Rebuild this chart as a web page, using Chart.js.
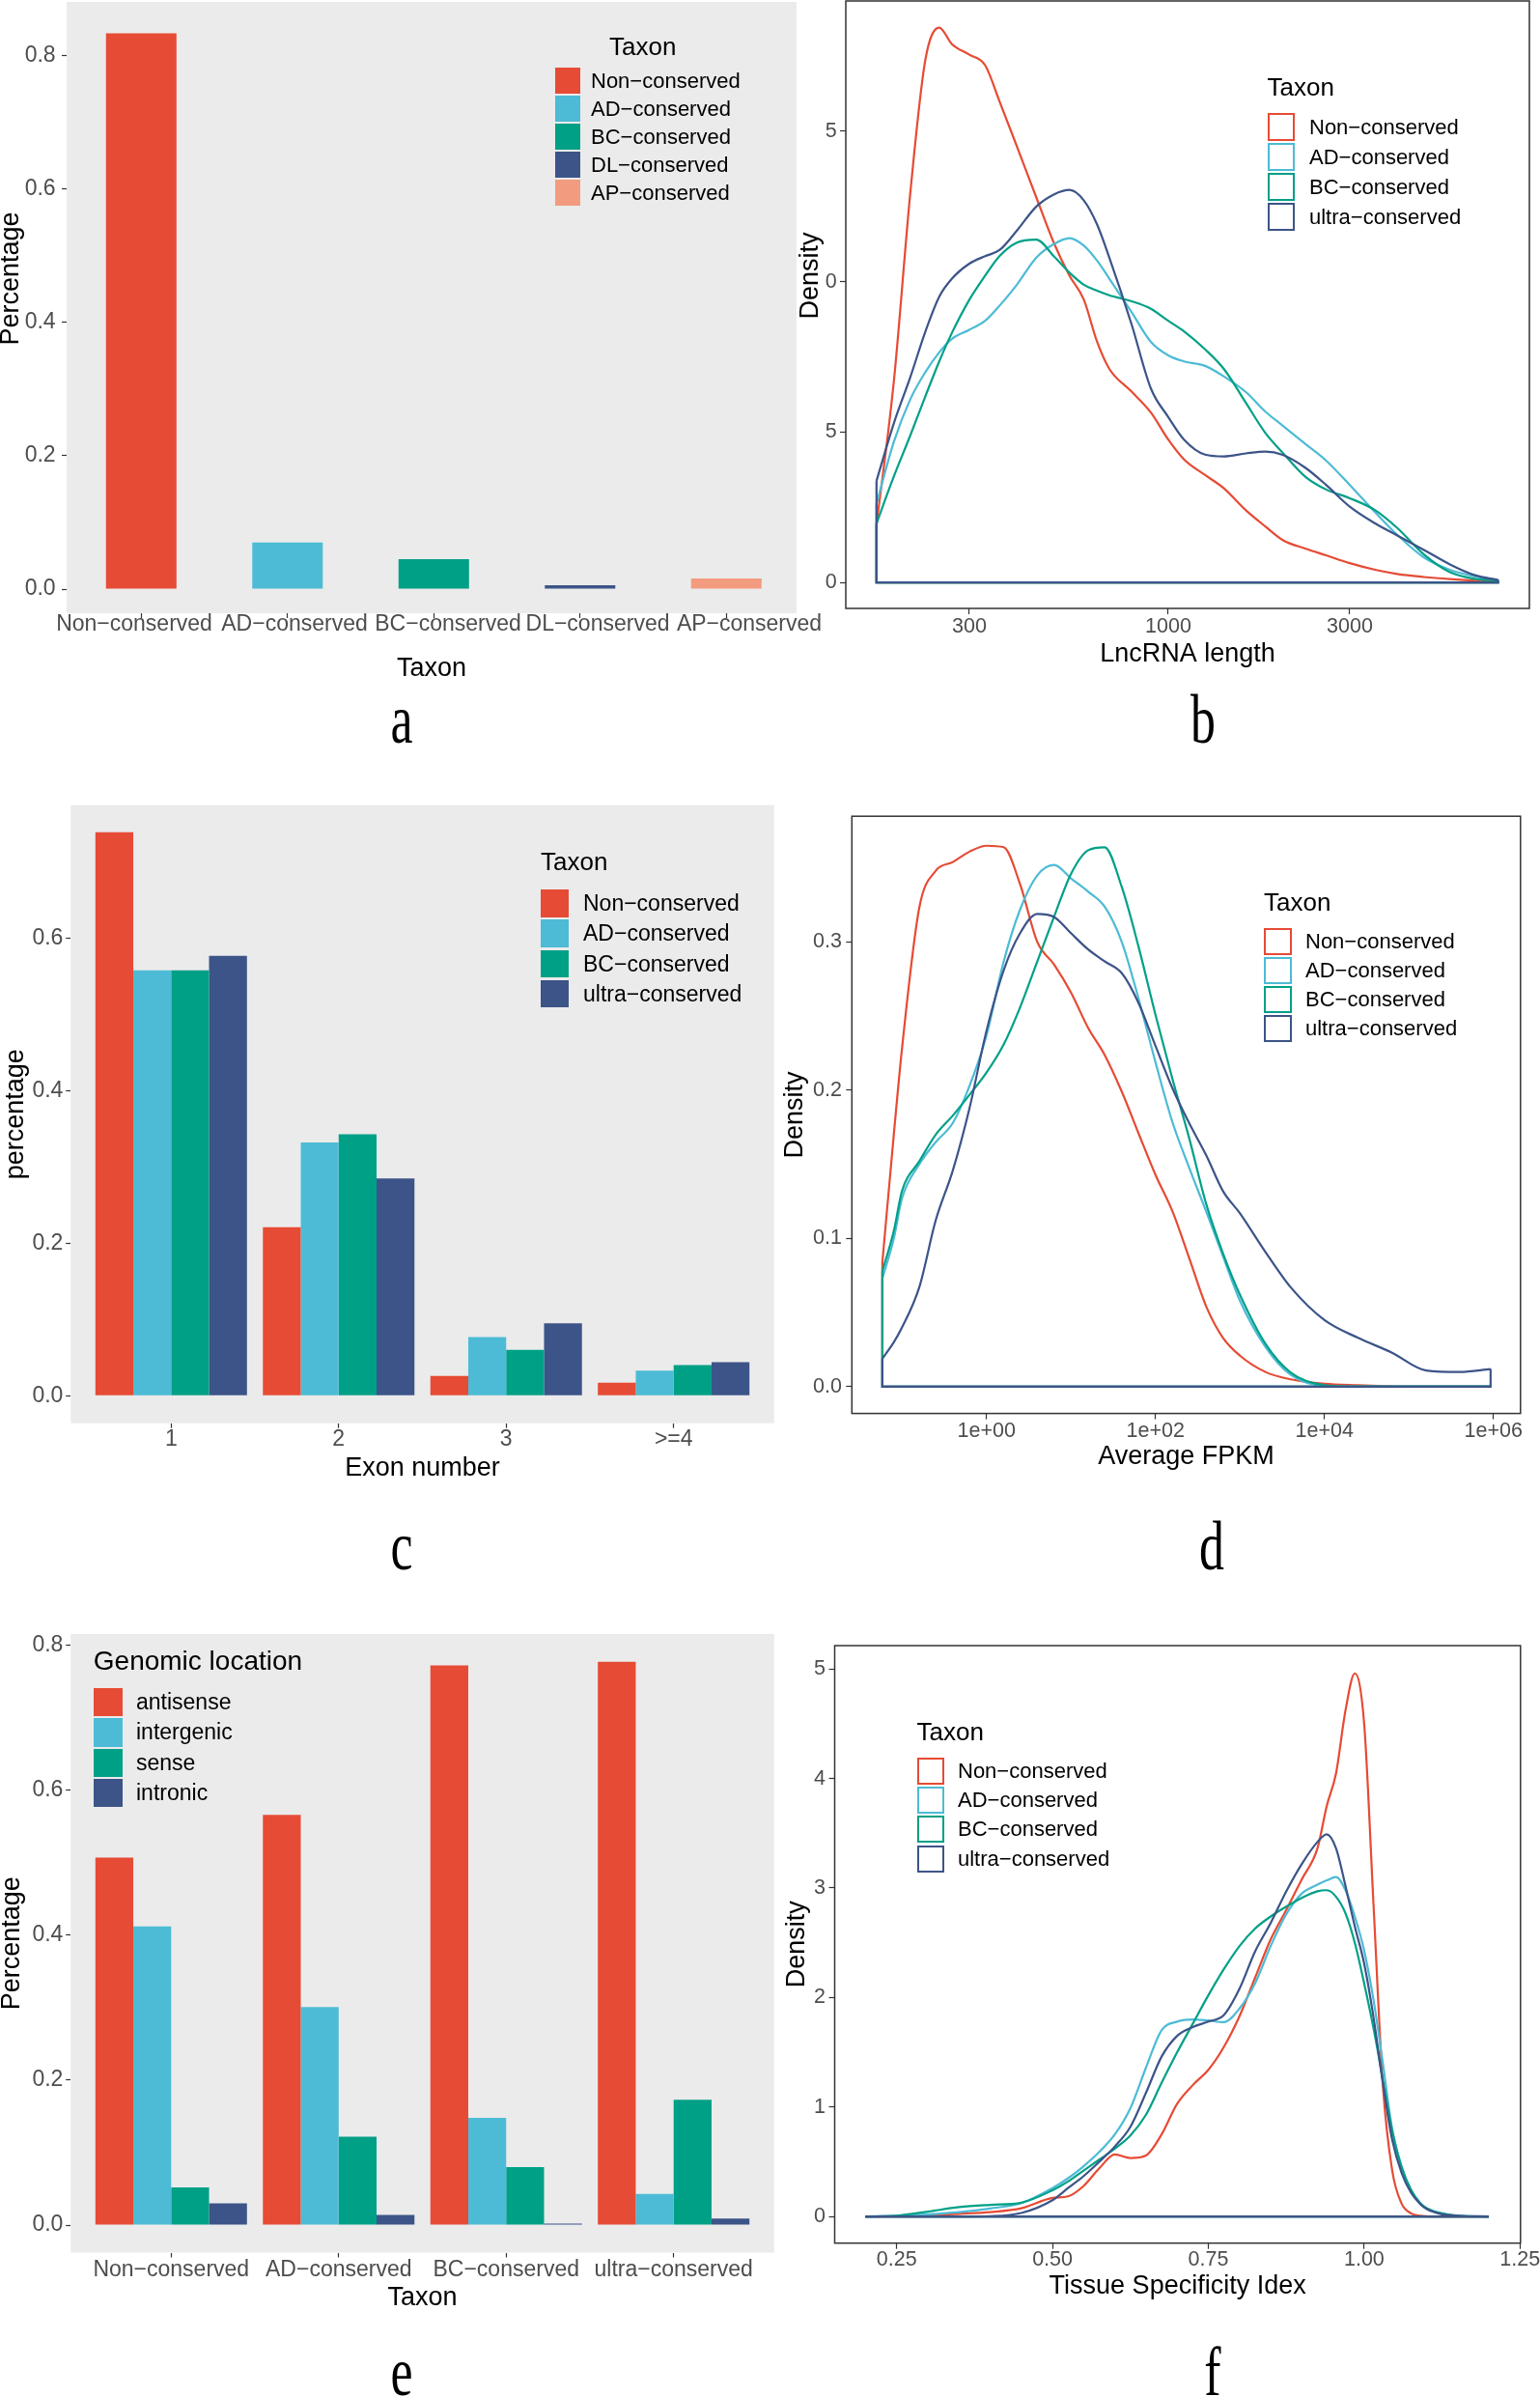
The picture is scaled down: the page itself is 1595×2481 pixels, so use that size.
<!DOCTYPE html>
<html lang="en">
<head>
<meta charset="utf-8">
<title>LncRNA conservation figure</title>
<script src="https://cdn.jsdelivr.net/npm/chart.js@4.4.1/dist/chart.umd.min.js"></script>
<style>
  html, body { margin:0; padding:0; background:#ffffff; }
  #page { position:relative; width:1595px; height:2481px; overflow:hidden; background:#ffffff;
          font-family:"Liberation Sans", Arial, Helvetica, sans-serif; color:#000; }
  #page canvas { position:absolute; }
  .lg-title, .lg-label { position:absolute; white-space:nowrap; color:#000; }
  .lg-key { position:absolute; box-sizing:border-box; }
  .letter { position:absolute; font-family:"Liberation Serif","Times New Roman",serif; color:#000;
            white-space:nowrap; text-align:center; transform-origin:50% 50%; }
</style>
</head>
<body>
<div id="page"></div>
<script>
// ---------------- DATA ----------------
// Panel a: share of lncRNAs per taxon
const taxaA = ['Non−conserved', 'AD−conserved', 'BC−conserved', 'DL−conserved', 'AP−conserved'];
const shareA = [0.833, 0.070, 0.045, 0.006, 0.016];
const yTicksA = [0, 0.2, 0.4, 0.6, 0.8];
const yLabelsA = ['0.0', '0.2', '0.4', '0.6', '0.8'];

// Four-taxon groups (panels b, c, d, f)
const taxa4 = ['Non−conserved', 'AD−conserved', 'BC−conserved', 'ultra−conserved'];

// Panel b: density of lncRNA length (log10 scale)
const lengthGrid = [171,190,210,230,250,270,300,330,360,400,450,500,550,600,650,700,800,900,1000,1100,1250,1400,1600,1800,2000,2300,2600,3000,3500,4000,4700,5500,6400,7360];
const lenNon   = [0.19,0.67,1.30,1.74,1.845,1.79,1.755,1.72,1.60,1.45,1.28,1.13,1.02,0.94,0.80,0.71,0.635,0.565,0.475,0.409,0.357,0.313,0.240,0.186,0.141,0.112,0.090,0.064,0.042,0.028,0.018,0.011,0.006,0.004];
const lenAD    = [0.262,0.468,0.61,0.70,0.765,0.81,0.84,0.87,0.92,0.99,1.08,1.125,1.145,1.12,1.07,1.01,0.90,0.80,0.755,0.735,0.72,0.685,0.633,0.568,0.521,0.459,0.405,0.324,0.233,0.158,0.083,0.042,0.020,0.008];
const lenBC    = [0.196,0.353,0.49,0.62,0.735,0.83,0.94,1.02,1.085,1.13,1.14,1.085,1.03,0.99,0.97,0.955,0.935,0.91,0.87,0.835,0.775,0.71,0.597,0.497,0.431,0.350,0.309,0.280,0.240,0.181,0.093,0.034,0.012,0.006];
const lenUltra = [0.338,0.53,0.684,0.835,0.95,1.01,1.06,1.085,1.105,1.17,1.25,1.29,1.305,1.27,1.19,1.08,0.86,0.645,0.55,0.475,0.425,0.419,0.429,0.435,0.424,0.380,0.324,0.252,0.196,0.156,0.108,0.060,0.024,0.008];
const xTicksB = [300, 1000, 3000];
const xLabelsB = ['300', '1000', '3000'];
const yTicksB = [0, 0.5, 1.0, 1.5];
const yLabelsB = ['0', '5', '0', '5'];   // as printed (leading digits cut off in the figure)

// Panel c: exon number
const exonClasses = ['1', '2', '3', '>=4'];
const exonNon   = [0.739, 0.221, 0.026, 0.017];
const exonAD    = [0.558, 0.332, 0.077, 0.033];
const exonBC    = [0.558, 0.343, 0.060, 0.040];
const exonUltra = [0.577, 0.285, 0.095, 0.044];
const yTicksC = [0, 0.2, 0.4, 0.6];
const yLabelsC = ['0.0', '0.2', '0.4', '0.6'];

// Panel d: density of average FPKM (log10 scale)
const fpkmGrid  = [0.0586,0.08,0.1,0.16,0.25,0.4,0.63,1,1.6,2.5,4,6.3,10,16,25,40,63,100,160,250,400,630,1000,2000,4000,10000,25000,63000,160000,400000,925000];
const fpkmNon   = [0.084,0.17,0.228,0.323,0.348,0.354,0.361,0.365,0.364,0.339,0.30,0.285,0.266,0.242,0.224,0.199,0.171,0.143,0.118,0.087,0.054,0.033,0.021,0.010,0.005,0.002,0.001,0.0003,0,0,0];
const fpkmAD    = [0.073,0.10,0.127,0.150,0.165,0.178,0.203,0.237,0.287,0.322,0.345,0.352,0.343,0.334,0.324,0.30,0.262,0.219,0.178,0.148,0.118,0.088,0.058,0.027,0.008,0.0005,0,0,0,0,0];
const fpkmBC    = [0.078,0.105,0.132,0.152,0.17,0.183,0.197,0.212,0.231,0.256,0.287,0.317,0.346,0.362,0.364,0.337,0.297,0.251,0.207,0.168,0.123,0.090,0.062,0.029,0.0095,0.001,0,0,0,0,0];
const fpkmUltra = [0.019,0.030,0.040,0.067,0.112,0.146,0.188,0.240,0.281,0.306,0.319,0.317,0.306,0.295,0.287,0.279,0.259,0.230,0.201,0.178,0.156,0.132,0.117,0.091,0.067,0.045,0.033,0.023,0.011,0.010,0.012];
const xTicksD = [1, 100, 10000, 1000000];
const xLabelsD = ['1e+00', '1e+02', '1e+04', '1e+06'];
const yTicksD = [0, 0.1, 0.2, 0.3];
const yLabelsD = ['0.0', '0.1', '0.2', '0.3'];

// Panel e: genomic location per taxon
const locations = ['antisense', 'intergenic', 'sense', 'intronic'];
const locAntisense  = [0.507, 0.566, 0.772, 0.777];
const locIntergenic = [0.412, 0.301, 0.148, 0.043];
const locSense      = [0.052, 0.122, 0.080, 0.173];
const locIntronic   = [0.030, 0.014, 0.002, 0.009];
const yTicksE = [0, 0.2, 0.4, 0.6, 0.8];
const yLabelsE = ['0.0', '0.2', '0.4', '0.6', '0.8'];

// Panel f: density of tissue specificity index
const tsiGrid  = [0.20,0.25,0.30,0.35,0.40,0.45,0.50,0.525,0.55,0.575,0.60,0.625,0.65,0.675,0.70,0.725,0.75,0.775,0.80,0.825,0.85,0.875,0.90,0.925,0.94,0.955,0.97,0.985,1.00,1.015,1.03,1.045,1.06,1.075,1.09,1.10,1.125,1.15,1.20];
const tsiNon   = [0,0.004,0.012,0.025,0.041,0.075,0.17,0.185,0.28,0.44,0.567,0.535,0.558,0.75,1.03,1.20,1.34,1.55,1.83,2.18,2.53,2.80,3.08,3.36,3.75,4.05,4.62,4.96,4.50,2.85,1.20,0.42,0.12,0.03,0.008,0.003,0,0,0];
const tsiAD    = [0,0.008,0.021,0.041,0.074,0.123,0.26,0.35,0.46,0.59,0.75,0.99,1.36,1.70,1.78,1.80,1.79,1.775,1.90,2.13,2.47,2.76,2.95,3.03,3.07,3.10,2.98,2.74,2.43,1.98,1.40,0.80,0.46,0.24,0.115,0.074,0.025,0.008,0];
const tsiBC    = [0,0.008,0.045,0.086,0.107,0.127,0.24,0.32,0.42,0.52,0.62,0.74,0.93,1.22,1.50,1.76,2.02,2.26,2.47,2.63,2.74,2.83,2.91,2.97,2.98,2.92,2.77,2.50,2.13,1.72,1.25,0.78,0.45,0.246,0.123,0.078,0.029,0.008,0];
const tsiUltra = [0,0,0,0,0.004,0.033,0.15,0.26,0.37,0.50,0.64,0.82,1.13,1.46,1.65,1.73,1.78,1.84,2.08,2.42,2.68,2.97,3.22,3.42,3.49,3.36,3.02,2.65,2.31,1.82,1.22,0.70,0.40,0.22,0.115,0.07,0.021,0.008,0];
const xTicksF = [0.25, 0.5, 0.75, 1.0, 1.25];
const xLabelsF = ['0.25', '0.50', '0.75', '1.00', '1.25'];
const yTicksF = [0, 1, 2, 3, 4, 5];
const yLabelsF = ['0', '1', '2', '3', '4', '5'];

// ---------------- STYLE / LAYOUT ----------------
const RED = '#E64B35', CYAN = '#4DBBD5', GREEN = '#00A087', NAVY = '#3C5488', SALMON = '#F39B7F';
const COLORS5 = [RED, CYAN, GREEN, NAVY, SALMON];
const COLORS4 = [RED, CYAN, GREEN, NAVY];

// page-pixel layout of each panel (canvas rect, plot area, text anchors)
const LAYOUT = {
  a: { rect:{x:0,   y:0,    w:860, h:720}, area:{l:69,    t:2,      r:825,    b:635},    tl:5, tickFs:23,   yTickRight:57.6,  yTitleX:12,  yTitleShift:8, xTickY:646,    xTitleY:693,
       xLabelCenters:[139, 305, 464, 619, 776] },
  b: { rect:{x:800, y:0,    w:795, h:720}, area:{l:876,   t:1,      r:1584,   b:630},    tl:6, tickFs:21.5, yTickRight:866.7, yTitleX:840, yTitleShift:8, xTickY:649,    xTitleY:678 },
  c: { rect:{x:0,   y:820,  w:830, h:740}, area:{l:73.2,  t:833.7,  r:801.8,  b:1473.7}, tl:5, tickFs:23,   yTickRight:65.4,  yTitleX:17,  yTitleShift:0, xTickY:1491,   xTitleY:1521 },
  d: { rect:{x:800, y:820,  w:795, h:740}, area:{l:882.3, t:845.2,  r:1574.8, b:1463.6}, tl:6, tickFs:21.5, yTickRight:872,   yTitleX:824, yTitleShift:0, xTickY:1482,   xTitleY:1508.5 },
  e: { rect:{x:0,   y:1660, w:830, h:760}, area:{l:73.2,  t:1691.9, r:801.8,  b:2332.5}, tl:5, tickFs:23,   yTickRight:65.4,  yTitleX:13,  yTitleShift:0, xTickY:2350.6, xTitleY:2380 },
  f: { rect:{x:800, y:1660, w:795, h:760}, area:{l:864.5, t:1704,   r:1574.8, b:2322.7}, tl:6, tickFs:21.5, yTickRight:855,   yTitleX:826, yTitleShift:0, xTickY:2340,   xTitleY:2368 }
};

const LEGENDS = {
  a: { title:'Taxon', titleX:631,    titleCY:48,    titleSize:26, keyX:575,    keyW:26,   keyH:27.5, keyTop:69.8,   step:29,   labelX:612,  labelSize:22 },
  b: { title:'Taxon', titleX:1312.6, titleCY:90,    titleSize:26, keyX:1312.6, keyW:28.7, keyH:29.5, keyTop:116.6,  step:31,   labelX:1356, labelSize:22 },
  c: { title:'Taxon', titleX:560,    titleCY:892,   titleSize:26, keyX:560,    keyW:28.8, keyH:28.5, keyTop:921,    step:31.3, labelX:604,  labelSize:23 },
  d: { title:'Taxon', titleX:1309,   titleCY:933.5, titleSize:26, keyX:1309,   keyW:28.5, keyH:28,   keyTop:960.9,  step:30.1, labelX:1352, labelSize:22 },
  e: { title:'Genomic location', titleX:96.8, titleCY:1720, titleSize:28, keyX:96.8, keyW:29.8, keyH:29.5, keyTop:1747.7, step:31.4, labelX:141, labelSize:23 },
  f: { title:'Taxon', titleX:949.5,  titleCY:1793,  titleSize:26, keyX:949.5,  keyW:28.7, keyH:28,   keyTop:1820,   step:30.2, labelX:992,  labelSize:22 }
};

const LETTERS = [['a',416,769], ['b',1246,769], ['c',416,1625], ['d',1255,1625], ['e',416,2480], ['f',1256,2480]];

// ---------------- HELPERS ----------------
const page = document.getElementById('page');
Chart.defaults.font.family = '"Liberation Sans", Arial, Helvetica, sans-serif';
Chart.defaults.color = '#4D4D4D';

const greyPanel = {
  id: 'greyPanel',
  beforeDraw(chart) {
    const { ctx, chartArea: a } = chart;
    ctx.save();
    ctx.fillStyle = '#EBEBEB';
    ctx.fillRect(a.left, a.top, a.right - a.left, a.bottom - a.top);
    ctx.restore();
  }
};
const framePanel = {
  id: 'framePanel',
  afterDatasetsDraw(chart) {
    const { ctx, chartArea: a } = chart;
    ctx.save();
    ctx.strokeStyle = '#333333';
    ctx.lineWidth = 1.5;
    ctx.strokeRect(a.left, a.top, a.right - a.left, a.bottom - a.top);
    ctx.restore();
  }
};

function gridOpts(tl) {
  return { display:true, drawOnChartArea:false, drawTicks:true, tickLength:tl, tickColor:'#333333', tickWidth:1.2, offset:false };
}

function buildScales(L, sx, sy) {
  const r = L.rect, a = L.area, tl = L.tl, fs = L.tickFs, ts = 27;
  const bottom = r.y + r.h;
  const xTitle = { display:true, text:sx.title, color:'#000000', font:{ size:ts, lineHeight:1 },
                   padding:{ top:0, bottom: bottom - L.xTitleY - ts / 2 } };
  const split = Array.isArray(L.xLabelCenters);
  const scales = {
    x: {
      type: sx.type, min: sx.min, max: sx.max, bounds: 'data', offset: false, weight: 0,
      afterFit: s => { s.height = split ? 0 : bottom - a.b; s.paddingLeft = 0; s.paddingRight = 0; },
      afterBuildTicks: s => { s.ticks = sx.ticks.map(v => ({ value: v })); },
      grid: gridOpts(tl), border: { display: false },
      ticks: { display: !split, autoSkip:false, maxRotation:0, minRotation:0, color:'#4D4D4D',
               font:{ size:fs, lineHeight:1 }, padding: L.xTickY - a.b - tl - fs / 2,
               callback: (v, i) => sx.labels[i] },
      title: split ? { display:false } : xTitle
    },
    y: {
      type: 'linear', min: sy.min, max: sy.max, bounds: 'data',
      afterFit: s => { s.width = a.l - r.x; s.paddingTop = 0; s.paddingBottom = 0; },
      afterBuildTicks: s => { s.ticks = sy.ticks.map(v => ({ value: v })); },
      grid: gridOpts(tl), border: { display: false },
      ticks: { color:'#4D4D4D', font:{ size:fs, lineHeight:1 }, padding: a.l - tl - L.yTickRight,
               callback: (v, i) => sy.labels[i] },
      title: { display:true, text: '\u00A0'.repeat(L.yTitleShift || 0) + sy.title, color:'#000000',
               font:{ size:ts, lineHeight:1 }, padding:{ top: L.yTitleX - r.x - ts / 2, bottom:0 } }
    }
  };
  if (split) {
    // separate label row: the printed category labels sit slightly apart from the tick marks
    scales.xLabels = {
      type: 'linear', position: 'bottom', axis: 'x', min: a.l, max: a.r, bounds: 'data', offset: false, weight: 1,
      afterFit: s => { s.height = bottom - a.b; s.paddingLeft = 0; s.paddingRight = 0; },
      afterBuildTicks: s => { s.ticks = L.xLabelCenters.map(v => ({ value: v })); },
      grid: { display:false, drawTicks:false, drawOnChartArea:false }, border: { display:false },
      ticks: { autoSkip:false, maxRotation:0, minRotation:0, color:'#4D4D4D',
               font:{ size:fs, lineHeight:1 }, padding: Math.max(0, L.xTickY - a.b - fs / 2),
               callback: (v, i) => sx.labels[i] },
      title: xTitle
    };
  }
  return scales;
}

function makeChart(key, type, data, sx, sy, plugins) {
  const L = LAYOUT[key];
  const canvas = document.createElement('canvas');
  canvas.width = L.rect.w; canvas.height = L.rect.h;
  canvas.style.left = L.rect.x + 'px'; canvas.style.top = L.rect.y + 'px';
  canvas.style.width = L.rect.w + 'px'; canvas.style.height = L.rect.h + 'px';
  page.appendChild(canvas);
  return new Chart(canvas.getContext('2d'), {
    type, data, plugins,
    options: {
      responsive:false, maintainAspectRatio:false, devicePixelRatio:1, animation:false, events:[],
      layout: { padding: { left:0, top: L.area.t - L.rect.y, right: L.rect.x + L.rect.w - L.area.r, bottom:0 } },
      plugins: { legend:{ display:false }, tooltip:{ enabled:false }, title:{ display:false } },
      scales: buildScales(L, sx, sy)
    }
  });
}

function barSets(seriesList, names, colors, catPct) {
  return seriesList.map((vals, k) => ({
    label: names[k], xAxisID: 'x',
    data: vals.map((v, i) => ({ x: i + 1, y: v })),
    backgroundColor: colors[k], borderWidth: 0,
    categoryPercentage: catPct, barPercentage: 1
  }));
}

function densitySets(xs, seriesList, names, colors) {
  const sets = [];
  const n = seriesList.length, last = xs.length - 1;
  seriesList.forEach((ys, k) => {
    const ord = (n - k) * 2;
    sets.push({
      label: names[k], data: xs.map((x, i) => ({ x, y: ys[i] })),
      borderColor: colors[k], borderWidth: 2.2, pointRadius: 0, fill: false,
      cubicInterpolationMode: 'monotone', borderJoinStyle: 'round', order: ord
    });
    // closing outline of the density polygon (vertical ends + baseline), as drawn by ggplot
    sets.push({
      label: names[k] + ' outline',
      data: [{ x: xs[0], y: ys[0] }, { x: xs[0], y: 0 }, { x: xs[last], y: 0 }, { x: xs[last], y: ys[last] }],
      borderColor: colors[k], borderWidth: 2.2, pointRadius: 0, fill: false, tension: 0, order: ord - 1
    });
  });
  return sets;
}

function htmlLegend(spec, labels, colors, filled) {
  const t = document.createElement('div');
  t.className = 'lg-title'; t.textContent = spec.title;
  t.style.left = spec.titleX + 'px'; t.style.top = (spec.titleCY - spec.titleSize / 2) + 'px';
  t.style.fontSize = spec.titleSize + 'px'; t.style.lineHeight = spec.titleSize + 'px';
  page.appendChild(t);
  labels.forEach((lab, i) => {
    const top = spec.keyTop + i * spec.step;
    const k = document.createElement('div');
    k.className = 'lg-key';
    k.style.left = spec.keyX + 'px'; k.style.top = top + 'px';
    k.style.width = spec.keyW + 'px'; k.style.height = spec.keyH + 'px';
    if (filled) { k.style.background = colors[i]; }
    else { k.style.background = '#ffffff'; k.style.border = '2.2px solid ' + colors[i]; }
    page.appendChild(k);
    const l = document.createElement('div');
    l.className = 'lg-label'; l.textContent = lab;
    l.style.left = spec.labelX + 'px'; l.style.top = top + 'px';
    l.style.height = spec.keyH + 'px'; l.style.lineHeight = spec.keyH + 'px';
    l.style.fontSize = spec.labelSize + 'px';
    page.appendChild(l);
  });
}

// ---------------- PANELS ----------------
// a
makeChart('a', 'bar',
  { datasets: [{ label:'Percentage', xAxisID:'x', data: taxaA.map((t, i) => ({ x: i + 1, y: shareA[i] })),
                 backgroundColor: COLORS5, borderWidth: 0, categoryPercentage: 0.482, barPercentage: 1 }] },
  { type:'linear', min:0.49, max:5.48, ticks: taxaA.map((t, i) => i + 1), labels: taxaA, title:'Taxon' },
  { min:-0.036, max:0.88, ticks: yTicksA, labels: yLabelsA, title:'Percentage' },
  [greyPanel]);
htmlLegend(LEGENDS.a, taxaA, COLORS5, true);

// b
makeChart('b', 'line',
  { datasets: densitySets(lengthGrid, [lenNon, lenAD, lenBC, lenUltra], taxa4, COLORS4) },
  { type:'logarithmic', min:142, max:8897, ticks: xTicksB, labels: xLabelsB, title:'LncRNA length' },
  { min:-0.0864, max:1.9335, ticks: yTicksB, labels: yLabelsB, title:'Density' },
  [framePanel]);
htmlLegend(LEGENDS.b, taxa4, COLORS4, false);

// c
makeChart('c', 'bar',
  { datasets: barSets([exonNon, exonAD, exonBC, exonUltra], taxa4, COLORS4, 0.905) },
  { type:'linear', min:0.4, max:4.6, ticks: exonClasses.map((c, i) => i + 1), labels: exonClasses, title:'Exon number' },
  { min:-0.0361, max:0.7745, ticks: yTicksC, labels: yLabelsC, title:'percentage' },
  [greyPanel]);
htmlLegend(LEGENDS.c, taxa4, COLORS4, true);

// d
makeChart('d', 'line',
  { datasets: densitySets(fpkmGrid, [fpkmNon, fpkmAD, fpkmBC, fpkmUltra], taxa4, COLORS4) },
  { type:'logarithmic', min:0.02553, max:2090000, ticks: xTicksD, labels: xLabelsD, title:'Average FPKM' },
  { min:-0.018, max:0.3849, ticks: yTicksD, labels: yLabelsD, title:'Density' },
  [framePanel]);
htmlLegend(LEGENDS.d, taxa4, COLORS4, false);

// e
makeChart('e', 'bar',
  { datasets: barSets([locAntisense, locIntergenic, locSense, locIntronic], locations, COLORS4, 0.905) },
  { type:'linear', min:0.4, max:4.6, ticks: taxa4.map((t, i) => i + 1), labels: taxa4, title:'Taxon' },
  { min:-0.0378, max:0.8155, ticks: yTicksE, labels: yLabelsE, title:'Percentage' },
  [greyPanel]);
htmlLegend(LEGENDS.e, locations, COLORS4, true);

// f
makeChart('f', 'line',
  { datasets: densitySets(tsiGrid, [tsiNon, tsiAD, tsiBC, tsiUltra], taxa4, COLORS4) },
  { type:'linear', min:0.1506, max:1.2508, ticks: xTicksF, labels: xLabelsF, title:'Tissue Specificity Idex' },
  { min:-0.2425, max:5.2134, ticks: yTicksF, labels: yLabelsF, title:'Density' },
  [framePanel]);
htmlLegend(LEGENDS.f, taxa4, COLORS4, false);

// panel letters
LETTERS.forEach(([t, cx, base]) => {
  const d = document.createElement('div');
  d.className = 'letter'; d.textContent = t;
  d.style.fontSize = '72px'; d.style.lineHeight = '72px';
  d.style.left = (cx - 50) + 'px'; d.style.width = '100px';
  d.style.top = (base - 0.8375 * 72) + 'px';
  d.style.transform = 'scaleX(0.72)';
  page.appendChild(d);
});
</script>
</body>
</html>
